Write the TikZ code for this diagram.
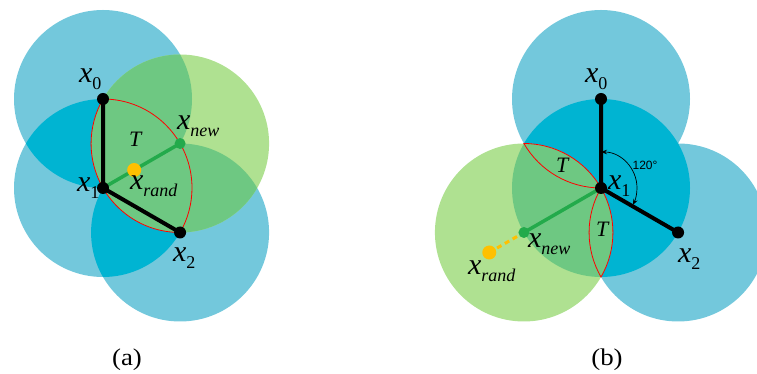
\documentclass[tikz,border=0pt]{standalone}
\usepackage{fontspec}
\setmainfont{Liberation Serif}
\newfontfamily\sansf{Liberation Sans}
\usetikzlibrary{calc,arrows.meta}
\definecolor{lb}{RGB}{115,200,220}
\definecolor{db}{RGB}{0,180,210}
\definecolor{lg}{RGB}{175,225,145}
\definecolor{mg}{RGB}{110,200,130}
\definecolor{gline}{RGB}{35,170,75}
\definecolor{ydot}{RGB}{255,192,0}
\newcommand\xl[1]{\fontsize{30}{30}\selectfont\itshape x\raisebox{-7pt}{\fontsize{18}{18}\selectfont #1}}
\begin{document}
\begin{tikzpicture}[x=1pt,y=1pt,
  dotb/.style={circle,fill=black,inner sep=0,minimum size=12pt},
  dotg/.style={circle,fill=gline,inner sep=0,minimum size=11pt},
  doty/.style={circle,fill=ydot,inner sep=0,minimum size=14pt},
  blk/.style={line width=4pt,black,line join=round},
  grn/.style={line width=3.5pt,gline},
  lens/.style={red,line width=0.8pt},
  lab/.style={inner sep=0,outer sep=0,anchor=base west},
  tlab/.style={inner sep=0,outer sep=0,anchor=base west,font=\fontsize{22}{22}\selectfont\itshape},
  captext/.style={inner sep=0,font=\fontsize{24}{24}\selectfont}]
\useasboundingbox (0,0) rectangle (757,374);
\def\R{89pt}
% ---------- panel (a)
\coordinate (a1) at (103,186);
\coordinate (a0) at ($(a1)+(90:89pt)$);
\coordinate (a2) at ($(a1)+(-30:89pt)$);
\coordinate (an) at ($(a1)+(30:89pt)$);
\coordinate (ar) at ($(a1)+(30:36pt)$);
\foreach \c in {a0,a1,a2} \fill[lb] (\c) circle[radius=\R];
\begin{scope}\clip (a0) circle[radius=\R]; \fill[db] (a1) circle[radius=\R]; \fill[db] (a2) circle[radius=\R];\end{scope}
\begin{scope}\clip (a1) circle[radius=\R]; \fill[db] (a2) circle[radius=\R];\end{scope}
\fill[lg] (an) circle[radius=\R];
\begin{scope}\clip (an) circle[radius=\R]; \foreach \c in {a0,a1,a2} \fill[mg] (\c) circle[radius=\R];\end{scope}
\draw[lens] (a0) arc[start angle=90,end angle=-30,radius=\R] arc[start angle=-90,end angle=-210,radius=\R] -- cycle;
\draw[blk] (a0) -- (a1) -- (a2);
\draw[grn] (a1) -- (an);
\node[dotb] (na0) at (a0) {};
\node[dotb] (na1) at (a1) {};
\node[dotb] (na2) at (a2) {};
\node[dotg] (nan) at (an) {};
\node[doty] (nar) at (ar) {};
\node[lab] (la0) at (79,291) {\xl{\upshape 0}};
\node[lab] (la1) at (77,182) {\xl{\upshape 1}};
\node[lab] (la2) at (173,112) {\xl{\upshape 2}};
\node[lab] (lan) at (177,244) {\xl{new}};
\node[lab] (lar) at (130,184) {\xl{rand}};
\node[tlab] (lat) at (129,227) {T};
\node[captext] (capa) at (127,14) {\scalebox{1.12}[1]{(a)}};
% ---------- panel (b)
\coordinate (b1) at (601,186);
\coordinate (b0) at ($(b1)+(90:89pt)$);
\coordinate (b2) at ($(b1)+(-30:89pt)$);
\coordinate (bn) at ($(b1)+(210:89pt)$);
\coordinate (br) at ($(bn)+(210:40pt)$);
\coordinate (bp) at ($(b0)+(210:89pt)$);
\foreach \c in {b0,b1,b2} \fill[lb] (\c) circle[radius=\R];
\begin{scope}\clip (b0) circle[radius=\R]; \fill[db] (b1) circle[radius=\R]; \fill[db] (b2) circle[radius=\R];\end{scope}
\begin{scope}\clip (b1) circle[radius=\R]; \fill[db] (b2) circle[radius=\R];\end{scope}
\fill[lg] (bn) circle[radius=\R];
\begin{scope}\clip (bn) circle[radius=\R]; \foreach \c in {b0,b1,b2} \fill[mg] (\c) circle[radius=\R];\end{scope}
\draw[lens] (bp) arc[start angle=210,end angle=270,radius=\R] arc[start angle=30,end angle=90,radius=\R] -- cycle;
\draw[lens] (b1) arc[start angle=150,end angle=210,radius=\R] arc[start angle=-30,end angle=30,radius=\R] -- cycle;
\draw[blk] (b0) -- (b1) -- (b2);
\draw[grn] (b1) -- (bn);
\draw[ydot,line width=3pt,dash pattern=on 5pt off 4pt] (br) -- (bn);
\draw[line width=0.7pt,{Stealth[length=6pt,width=4.5pt]}-{Stealth[length=6pt,width=4.5pt]}] ($(b1)+(90:36pt)$) arc[start angle=90,end angle=-28,radius=36pt];
\node[dotb] (nb0) at (b0) {};
\node[dotb] (nb1) at (b1) {};
\node[dotb] (nb2) at (b2) {};
\node[dotg] (nbn) at (bn) {};
\node[doty] (nbr) at (br) {};
\node[lab] (lb0) at (585,291) {\xl{\upshape 0}};
\node[lab] (lb1) at (608,184) {\xl{\upshape 1}};
\node[lab] (lb2) at (678,111) {\xl{\upshape 2}};
\node[lab] (lbn) at (528,126) {\xl{new}};
\node[lab] (lbr) at (468,99) {\xl{rand}};
\node[tlab] (lbt1) at (556,201) {T};
\node[tlab] (lbt2) at (596,137) {T};
\node[inner sep=0,font=\sansf\fontsize{12}{12}\selectfont] (ang) at (645,209) {120°};
\node[captext] (capb) at (607,14) {\scalebox{1.12}[1]{(b)}};
\end{tikzpicture}
\end{document}
